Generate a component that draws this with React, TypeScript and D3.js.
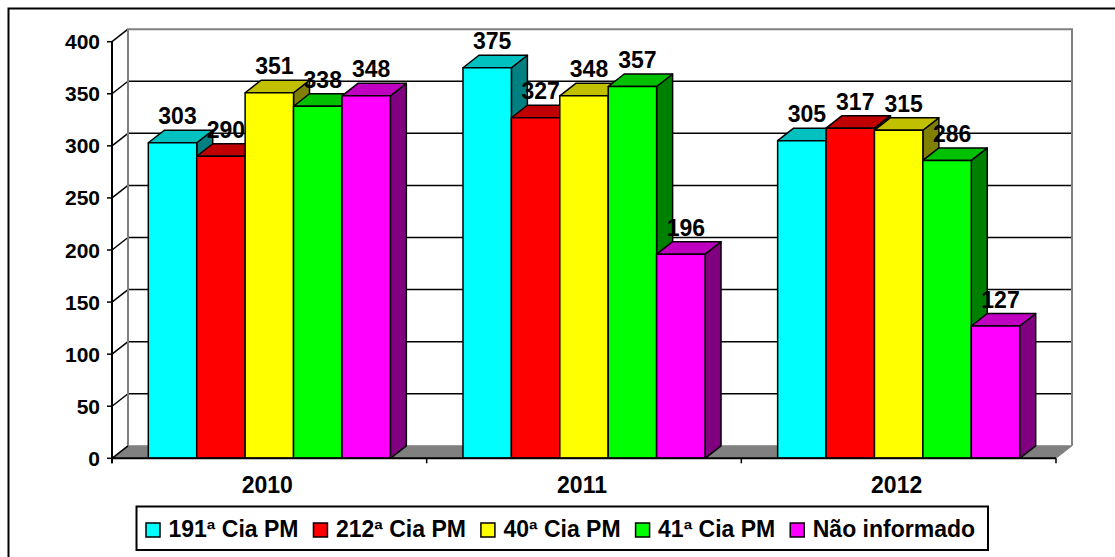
import React from "react";
import * as d3 from "d3";

const years = ["2010", "2011", "2012"];
const seriesNames = ["191ª Cia PM", "212ª Cia PM", "40ª Cia PM", "41ª Cia PM", "Não informado"];
const s191 = [303, 375, 305];
const s212 = [290, 327, 317];
const s40 = [351, 348, 315];
const s41 = [338, 357, 286];
const sNao = [348, 196, 127];
const seriesValues = [s191, s212, s40, s41, sNao];
const yTicks = [0, 50, 100, 150, 200, 250, 300, 350, 400];

const frontColors = ["#00FFFF", "#FF0000", "#FFFF00", "#00FF00", "#FF00FF"];
const topColors = ["#00C0C0", "#C00000", "#C0C000", "#00C000", "#C000C0"];
const sideColors = ["#008080", "#800000", "#808000", "#008000", "#800080"];

const W = 1115;
const H = 557;
const FONT = "'Liberation Sans', Arial, Helvetica, sans-serif";
const DX = 16;
const DY = -12.5;

function measure(text: string, font: string): number {
  if (typeof document === "undefined") return text.length * 12;
  const c = document.createElement("canvas");
  const ctx = c.getContext("2d");
  if (!ctx) return text.length * 12;
  ctx.font = font;
  return ctx.measureText(text).width;
}

export default function App() {
  const x0 = d3.scaleBand<string>().domain(years).range([112, 1056]).paddingInner(0).paddingOuter(0);
  const x1 = d3
    .scaleBand<number>()
    .domain(seriesNames.map((_, i) => i))
    .range([0, x0.bandwidth()])
    .paddingInner(0)
    .paddingOuter(0.75);
  const y = d3.scaleLinear().domain([0, 400]).range([458.3, 41.7]);

  const left = 112;
  const right = 1056;
  const y0 = y(0);
  const yTop = y(400);

  const bars: React.ReactNode[] = [];
  const labels: React.ReactNode[] = [];
  years.forEach((yr, ci) => {
    seriesNames.forEach((_, si) => {
      const v = seriesValues[si][ci];
      const bx = (x0(yr) as number) + (x1(si) as number);
      const bw = x1.bandwidth();
      const ty = y(v);
      const front = `M${bx},${y0}L${bx},${ty}L${bx + bw},${ty}L${bx + bw},${y0}Z`;
      const top = `M${bx},${ty}L${bx + DX},${ty + DY}L${bx + bw + DX},${ty + DY}L${bx + bw},${ty}Z`;
      const side = `M${bx + bw},${ty}L${bx + bw + DX},${ty + DY}L${bx + bw + DX},${y0 + DY}L${bx + bw},${y0}Z`;
      bars.push(
        <g key={`b-${ci}-${si}`} stroke="#000" strokeWidth={1.5} strokeLinejoin="round">
          <path d={side} fill={sideColors[si]} />
          <path d={top} fill={topColors[si]} />
          <path d={front} fill={frontColors[si]} />
        </g>
      );
      labels.push(
        <text
          key={`l-${ci}-${si}`}
          x={bx + bw / 2 + 5}
          y={ty + DY - 6}
          textAnchor="middle"
          fontFamily={FONT}
          fontWeight="bold"
          fontSize={23}
          fill="#000"
        >
          {v}
        </text>
      );
    });
  });

  // legend layout
  const legendFont = `bold 23px ${FONT}`;
  let lx = 146;
  const legendItems = seriesNames.map((name, i) => {
    const mx = lx;
    const tx = mx + 22.5;
    const tw = measure(name, legendFont);
    lx = tx + tw + 15;
    return (
      <g key={`lg-${i}`}>
        <rect x={mx} y={523} width={14} height={14} fill={frontColors[i]} stroke="#000" strokeWidth={1.5} />
        <text x={tx} y={537.3} fontFamily={FONT} fontWeight="bold" fontSize={23} fill="#000">
          {name}
        </text>
      </g>
    );
  });

  return (
    <svg
      width={W}
      height={H}
      viewBox={`0 0 ${W} ${H}`}
      style={{ position: "absolute", left: 0, top: 0, background: "#fff" }}
    >
      <rect x={0} y={0} width={W} height={H} fill="#fff" />
      <rect x={8.5} y={8.5} width={1200} height={600} fill="#fff" stroke="#000" strokeWidth={2} />

      {/* floor */}
      <path
        d={`M${left},${y0}L${right},${y0}L${right + DX},${y0 + DY}L${left + DX},${y0 + DY}Z`}
        fill="#808080"
        stroke="#808080"
        strokeWidth={1}
      />

      {/* back wall gridlines */}
      {yTicks
        .filter((t) => t > 0 && t < 400)
        .map((t) => (
          <line
            key={`g-${t}`}
            x1={left + DX}
            x2={right + DX}
            y1={y(t) + DY}
            y2={y(t) + DY}
            stroke="#000"
            strokeWidth={1.5}
          />
        ))}
      {/* side wall diagonals */}
      {yTicks
        .filter((t) => t > 0)
        .map((t) => (
          <line key={`d-${t}`} x1={left} x2={left + DX} y1={y(t)} y2={y(t) + DY} stroke="#000" strokeWidth={1.5} />
        ))}
      {/* back wall border */}
      <path
        d={`M${left + DX},${y0 + DY}L${left + DX},${yTop + DY}L${right + DX},${yTop + DY}L${right + DX},${y0 + DY}`}
        fill="none"
        stroke="#808080"
        strokeWidth={2}
      />

      {bars}

      {/* floor front edge / category axis */}
      <line x1={left} x2={right} y1={y0} y2={y0} stroke="#000" strokeWidth={2} />
      <line x1={left} x2={left + DX} y1={y0} y2={y0 + DY} stroke="#000" strokeWidth={1.5} />
      {[...years.map((yr) => x0(yr) as number), right].map((xv, i) => (
        <line key={`ct-${i}`} x1={xv} x2={xv} y1={y0} y2={y0 + 5} stroke="#000" strokeWidth={1.5} />
      ))}
      {years.map((yr) => (
        <text
          key={`cl-${yr}`}
          x={(x0(yr) as number) + x0.bandwidth() / 2 - 2}
          y={493}
          textAnchor="middle"
          fontFamily={FONT}
          fontWeight="bold"
          fontSize={23}
          fill="#000"
        >
          {yr}
        </text>
      ))}

      {/* value axis */}
      <line x1={left} x2={left} y1={y0 + 5} y2={yTop} stroke="#000" strokeWidth={2} />
      {yTicks.map((t) => (
        <g key={`yt-${t}`}>
          <line x1={left - 5} x2={left} y1={y(t)} y2={y(t)} stroke="#000" strokeWidth={1.5} />
          <text
            x={100}
            y={y(t) + 7.5}
            textAnchor="end"
            fontFamily={FONT}
            fontWeight="bold"
            fontSize={21}
            fill="#000"
          >
            {t}
          </text>
        </g>
      ))}

      {labels}

      {/* legend */}
      <rect x={136.5} y={506.5} width={851.5} height={43.5} fill="#fff" stroke="#000" strokeWidth={2} />
      {legendItems}
    </svg>
  );
}
